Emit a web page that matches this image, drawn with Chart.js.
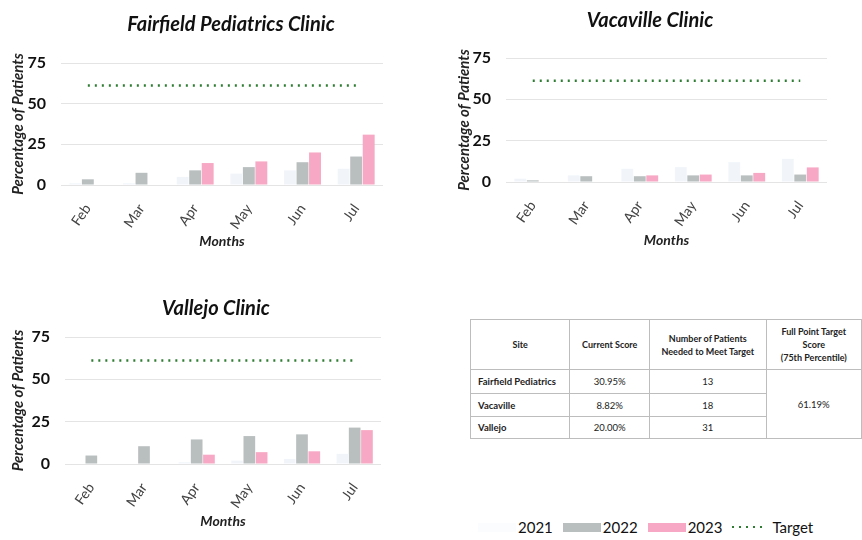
<!DOCTYPE html>
<html>
<head>
<meta charset="utf-8">
<script src="https://cdn.jsdelivr.net/npm/chart.js@4.4.1/dist/chart.umd.min.js"></script>
<style>
  body { margin: 0; background: #fff; font-family: Lato, "Open Sans", sans-serif; }
  #page { position: relative; width: 862px; height: 540px; overflow: hidden; }
  .box { position: absolute; }
  .ttl { position: absolute; font: italic bold 20px Lato, sans-serif; color: #111; transform: translate(-50%, -50%); white-space: nowrap; }
  table { border-collapse: collapse; font-size: 9.5px; color: #222; }
  td, th { border: 1px solid #bdbdbd; text-align: center; padding: 0 3px; font-weight: normal; }
  th { font-weight: bold; font-size: 9px; line-height: 13px; }
  td.site { text-align: left; font-weight: bold; padding-left: 7px; }
  #legend { position: absolute; left: 478px; top: 518px; font-size: 15px; color: #111; display: flex; align-items: center; }
  .sw { display: inline-block; width: 38px; height: 9px; margin-right: 2px; }
  .lbl { margin-right: 10px; }
</style>
</head>
<body>
<div id="page">
  <div class="box" style="left:0;top:0"><canvas id="c1" width="395" height="254"></canvas></div>
  <div class="box" style="left:440px;top:0"><canvas id="c2" width="422" height="253"></canvas></div>
  <div class="box" style="left:0;top:282px"><canvas id="c3" width="398" height="252"></canvas></div>

  <div class="ttl" style="left:231px;top:23px">Fairfield Pediatrics Clinic</div>
  <div class="ttl" style="left:650px;top:19px">Vacaville Clinic</div>
  <div class="ttl" style="left:216px;top:307px">Vallejo Clinic</div>

  <div class="box" style="left:470px;top:319px">
    <table>
      <tr style="height:50px">
        <th style="width:94px">Site</th>
        <th style="width:74px">Current Score</th>
        <th style="width:112px">Number of Patients<br>Needed to Meet Target</th>
        <th style="width:90px">Full Point Target<br>Score<br>(75th Percentile)</th>
      </tr>
      <tr style="height:24px"><td class="site">Fairfield Pediatrics</td><td>30.95%</td><td>13</td><td rowspan="3">61.19%</td></tr>
      <tr style="height:23px"><td class="site">Vacaville</td><td>8.82%</td><td>18</td></tr>
      <tr style="height:22px"><td class="site">Vallejo</td><td>20.00%</td><td>31</td></tr>
    </table>
  </div>

  <div id="legend">
    <span class="sw" style="background:#fbfcfe"></span><span class="lbl">2021</span>
    <span class="sw" style="background:#b9bebe"></span><span class="lbl">2022</span>
    <span class="sw" style="background:#f7a8c4"></span><span class="lbl">2023</span>
    <span class="sw" style="height:2px;width:34px;background:repeating-linear-gradient(90deg,#2e7d32 0 2px,transparent 2px 7px)"></span><span class="lbl" style="margin-left:4px">Target</span>
  </div>
</div>

<script>
const months = ["Feb", "Mar", "Apr", "May", "Jun", "Jul"];
const targetLine = [61.19, 61.19, 61.19, 61.19, 61.19, 61.19];

// Fairfield Pediatrics
const fairfield2021 = [1, 1, 5, 7, 9, 10];
const fairfield2022 = [3.5, 7.5, 9, 11, 14, 17.5];
const fairfield2023 = [0, 0, 13.5, 14.5, 20, 30.95];

// Vacaville
const vacaville2021 = [2, 4, 8, 9, 12, 14];
const vacaville2022 = [1, 3.5, 3.5, 4, 4, 4.5];
const vacaville2023 = [0, 0, 4, 4.5, 5.5, 8.82];

// Vallejo
const vallejo2021 = [0, 0, 1, 2, 3, 6];
const vallejo2022 = [5, 10.5, 14.5, 16.5, 17.5, 21.5];
const vallejo2023 = [0, 0, 5.5, 7, 7.5, 20];

const yTicks = [0, 25, 50, 75];

// box = [pad top, pad left, pad right, y axis width, x axis height]
function makeChart(id, d21, d22, d23, box) {
  return new Chart(document.getElementById(id), {
    type: "bar",
    data: {
      labels: months,
      datasets: [
        { label: "2021", data: d21, backgroundColor: "#f1f5fa", order: 2 },
        { label: "2022", data: d22, backgroundColor: "#b9bebe", order: 2 },
        { label: "2023", data: d23, backgroundColor: "#f7a8c4", order: 2 },
        {
          type: "line",
          label: "Target",
          data: targetLine,
          borderColor: "#2e7d32",
          borderWidth: 2.5,
          borderDash: [2, 5],
          pointRadius: 0,
          order: 1,
        },
      ],
    },
    options: {
      responsive: false,
      animation: false,
      layout: { padding: { top: box[0], left: box[1], right: box[2], bottom: 0 } },
      datasets: { bar: { categoryPercentage: 0.7, barPercentage: 0.95 } },
      plugins: {
        legend: { display: false },
        tooltip: { enabled: false },
      },
      scales: {
        x: {
          afterFit: function (axis) { axis.height = box[4]; },
          grid: { display: false },
          border: { display: false },
          ticks: {
            color: "#444",
            font: { family: "Lato", size: 14 },
            minRotation: 55,
            maxRotation: 55,
            padding: 8,
          },
          title: {
            display: true,
            text: "Months",
            color: "#222",
            font: { family: "Lato", size: 14, style: "italic", weight: "bold" },
            padding: { top: 4 },
          },
        },
        y: {
          min: 0,
          max: 75,
          afterBuildTicks: function (axis) {
            axis.ticks = yTicks.map(function (v) { return { value: v }; });
          },
          afterFit: function (axis) { axis.width = box[3]; },
          grid: { color: "#e4e4e4", drawTicks: false },
          border: { display: false },
          ticks: {
            color: "#111",
            font: { family: "Lato", size: 16, weight: "bold" },
            padding: 15,
          },
          title: {
            display: true,
            text: "Percentage of Patients",
            color: "#222",
            font: { family: "Lato", size: 15, style: "italic", weight: "bold" },
            padding: { top: 9, bottom: 0 },
          },
        },
      },
    },
  });
}

makeChart("c1", fairfield2021, fairfield2022, fairfield2023, [63, 0, 12, 61, 69]);
makeChart("c2", vacaville2021, vacaville2022, vacaville2023, [58, 6, 35, 60, 71]);
makeChart("c3", vallejo2021, vallejo2022, vallejo2023, [55, 0, 17, 65, 70]);
</script>
</body>
</html>
